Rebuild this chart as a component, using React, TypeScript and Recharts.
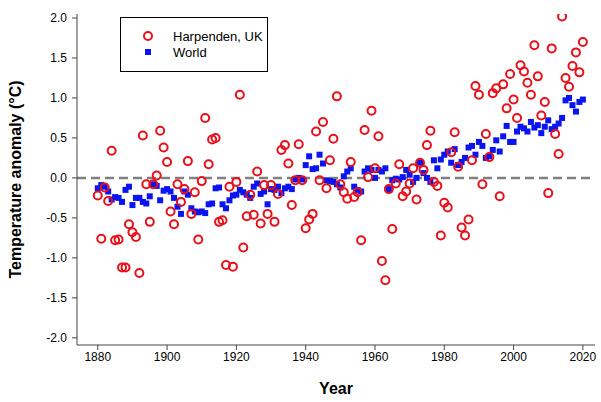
import React from 'react';
import { ScatterChart, Scatter, XAxis, YAxis, ReferenceLine, Legend } from 'recharts';

// annual values, one per year starting at firstYear
const firstYear = 1880;

const harpenden = [
  -0.22, -0.76, -0.12, -0.29, 0.34, -0.78, -0.77, -1.12, -1.12, -0.58,
  -0.68, -0.74, -1.19, 0.53, -0.08, -0.55, -0.08, 0.03, 0.59, 0.38,
  0.2, -0.42, -0.58, -0.08, -0.3, -0.14, 0.21, -0.45, -0.18, -0.77,
  -0.04, 0.75, 0.17, 0.48, 0.5, -0.55, -0.53, -1.09, -0.11, -1.11,
  -0.05, 1.04, -0.87, -0.48, -0.21, -0.46, 0.08, -0.57, -0.09, -0.45,
  -0.09, -0.55, -0.2, 0.35, 0.41, 0.18, -0.34, -0.03, 0.42, -0.03,
  -0.63, -0.52, -0.45, 0.58, -0.03, 0.7, -0.13, 0.22, 0.49, 1.02,
  -0.08, -0.18, -0.26, 0.2, -0.24, -0.18, -0.78, 0.6, 0.01, 0.84,
  0.12, 0.52, -1.04, -1.28, -0.14, -0.64, -0.07, 0.17, -0.23, -0.17,
  -0.07, 0.12, -0.27, 0.19, 0.1, 0.41, 0.59, -0.05, -0.1, -0.72,
  -0.31, -0.37, 0.32, 0.57, 0.14, -0.62, -0.72, -0.52, 0.22, 1.15,
  1.04, -0.08, 0.55, 0.26, 1.06, 1.12, -0.23, 1.17, 0.87, 1.3,
  0.98, 0.75, 1.41, 1.33, 1.19, 1.04, 1.66, 1.27, 0.78, 0.95,
  -0.19, 1.62, 0.55, 0.3, 2.02, 1.25, 1.14, 1.4, 1.57, 1.32,
  1.7,
];

const world = [
  -0.13, -0.09, -0.11, -0.17, -0.27, -0.24, -0.25, -0.3, -0.15, -0.11,
  -0.34, -0.25, -0.25, -0.3, -0.32, -0.23, -0.08, -0.1, -0.28, -0.16,
  -0.14, -0.17, -0.25, -0.36, -0.45, -0.17, -0.21, -0.38, -0.42, -0.43,
  -0.42, -0.44, -0.33, -0.32, -0.13, -0.12, -0.33, -0.38, -0.28, -0.22,
  -0.21, -0.15, -0.18, -0.21, -0.25, -0.11, -0.07, -0.2, -0.17, -0.33,
  -0.14, -0.15, -0.11, -0.19, -0.13, -0.11, -0.14, -0.02, 0.0, -0.02,
  0.16, 0.27, 0.11, 0.12, 0.29, 0.18, -0.03, -0.04, -0.05, -0.08,
  -0.12, 0.02, 0.08, 0.12, -0.11, -0.15, -0.17, 0.08, 0.12, 0.1,
  0.0, 0.1, 0.08, 0.12, -0.14, -0.03, -0.01, -0.02, 0.01, 0.1,
  0.04, -0.05, 0.0, 0.19, 0.06, 0.0, -0.05, 0.22, 0.12, 0.23,
  0.29, 0.33, 0.19, 0.36, 0.16, 0.2, 0.25, 0.38, 0.4, 0.29,
  0.45, 0.4, 0.25, 0.27, 0.35, 0.47, 0.33, 0.52, 0.65, 0.45,
  0.45, 0.58, 0.64, 0.62, 0.58, 0.7, 0.63, 0.66, 0.56, 0.64,
  0.72, 0.61, 0.64, 0.68, 0.75, 0.97, 1.0, 0.91, 0.83, 0.95,
  0.98,
];

const xTicks = [1880, 1900, 1920, 1940, 1960, 1980, 2000, 2020];
const yTicks = [-2, -1.5, -1, -0.5, 0, 0.5, 1, 1.5, 2];

const toPoints = (vals: number[]) => vals.map((v, i) => ({ year: firstYear + i, value: v }));

const font = 'Arial, "Liberation Sans", sans-serif';
const red = '#e8101a';
const blue = '#0a14f0';

const RedCircle = (props: any) => (
  <circle cx={props.cx} cy={props.cy} r={4} fill="none" stroke={red} strokeWidth={2} />
);

const BlueSquare = (props: any) => (
  <rect x={props.cx - 3} y={props.cy - 3} width={6} height={6} fill={blue} />
);

const LegendBox = () => (
  <div
    style={{
      border: '1px solid #000',
      background: '#fff',
      width: 148,
      height: 55,
      fontFamily: font,
      fontSize: 13,
      color: '#000',
      boxSizing: 'border-box',
    }}
  >
    <div style={{ display: 'flex', alignItems: 'center', height: 16, marginTop: 10 }}>
      <svg width={52} height={16}>
        <circle cx={27} cy={8} r={4} fill="none" stroke={red} strokeWidth={2} />
      </svg>
      <span>Harpenden, UK</span>
    </div>
    <div style={{ display: 'flex', alignItems: 'center', height: 16 }}>
      <svg width={52} height={16}>
        <rect x={24} y={5} width={6} height={6} fill={blue} />
      </svg>
      <span>World</span>
    </div>
  </div>
);

export default function App() {
  return (
    <div style={{ position: 'absolute', left: 0, top: 0, background: '#fff' }}>
      <ScatterChart width={601} height={402} margin={{ top: 14, right: 6, left: 0, bottom: 0 }}>
        <XAxis
          type="number"
          dataKey="year"
          domain={[1874, 2023.5]}
          ticks={xTicks}
          allowDataOverflow
          height={57}
          stroke="#444"
          tickSize={5}
          tick={{ fill: '#000', fontSize: 12, fontFamily: font }}
          label={{
            value: 'Year',
            position: 'insideBottom',
            offset: 8,
            style: { fontWeight: 'bold', fontSize: 16, fill: '#000', fontFamily: font },
          }}
        />
        <YAxis
          type="number"
          dataKey="value"
          domain={[-2.09, 2.05]}
          ticks={yTicks}
          allowDataOverflow
          width={77}
          stroke="#444"
          tickSize={5}
          tickMargin={5}
          tickFormatter={(v: number) => v.toFixed(1)}
          tick={{ fill: '#000', fontSize: 12, fontFamily: font }}
          label={{
            value: 'Temperature anomaly (°C)',
            angle: -90,
            position: 'insideLeft',
            offset: 15,
            style: { textAnchor: 'middle', fontWeight: 'bold', fontSize: 16, fill: '#000', fontFamily: font },
          }}
        />
        <ReferenceLine y={0} stroke="#808080" strokeWidth={2.5} strokeDasharray="9 5" />
        <Legend
          verticalAlign="middle"
          align="center"
          layout="horizontal"
          wrapperStyle={{ left: 120, top: 17, width: 148 }}
          content={() => <LegendBox />}
        />
        <Scatter name="World" data={toPoints(world)} shape={BlueSquare} isAnimationActive={false} />
        <Scatter name="Harpenden, UK" data={toPoints(harpenden)} shape={RedCircle} isAnimationActive={false} />
      </ScatterChart>
    </div>
  );
}
